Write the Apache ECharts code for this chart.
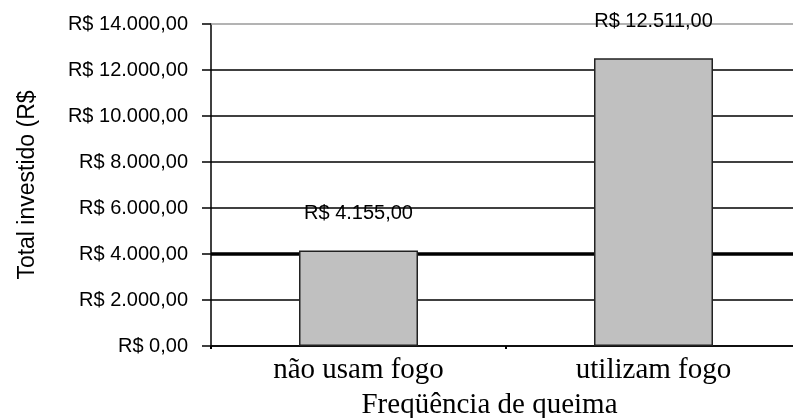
<!DOCTYPE html>
<html>
<head>
<meta charset="utf-8">
<script src="https://cdn.jsdelivr.net/npm/echarts@6/dist/echarts.min.js"></script>
<style>
  html, body { margin: 0; padding: 0; background: #fff; }
  #chart { width: 793px; height: 418px; }
</style>
</head>
<body>
<div id="chart"></div>
<script>
// Investimento total por frequência de queima
const categories = ['não usam fogo', 'utilizam fogo'];
const totals = [4155, 12511];
const yTicks = [0, 2000, 4000, 6000, 8000, 10000, 12000, 14000];
const axisTitleY = 'Total investido (R$';
const axisTitleX = 'Freqüência de queima';

// Formato monetário brasileiro: R$ 12.511,00
function brl(v) {
  const s = String(Math.round(v)).replace(/\B(?=(\d{3})+(?!\d))/g, '.');
  return 'R$ ' + s + ',00';
}

const sans = 'Liberation Sans, Arial, sans-serif';
const serif = 'Liberation Serif, Times New Roman, serif';

const chart = echarts.init(document.getElementById('chart'), null, { renderer: 'canvas' });
chart.setOption({
  animation: false,
  backgroundColor: '#ffffff',
  grid: { left: 211, top: 24, width: 590, height: 322, containLabel: false, outerBoundsMode: 'none' },
  xAxis: {
    type: 'category',
    data: categories,
    name: axisTitleX,
    nameLocation: 'middle',
    nameGap: 45,
    nameTextStyle: { fontFamily: serif, fontSize: 29, color: '#000', padding: [0, 33, 0, 0] },
    axisLine: { lineStyle: { color: '#000', width: 1.5 } },
    axisTick: { show: true, length: 3, lineStyle: { color: '#000', width: 2 } },
    axisLabel: { fontFamily: serif, fontSize: 29, color: '#000', margin: 10 }
  },
  yAxis: {
    type: 'value',
    min: yTicks[0],
    max: yTicks[yTicks.length - 1],
    interval: yTicks[1] - yTicks[0],
    name: axisTitleY,
    nameLocation: 'middle',
    nameGap: 172,
    nameTextStyle: { fontFamily: sans, fontSize: 23, color: '#000' },
    axisLine: { show: true, lineStyle: { color: '#000', width: 1.5 } },
    axisTick: { show: true, inside: false, length: 9, lineStyle: { color: '#000', width: 1.5 } },
    axisLabel: { fontFamily: sans, fontSize: 20, color: '#000', margin: 23, formatter: brl },
    splitLine: { show: true, showMaxLine: false, lineStyle: { color: '#000', width: 1.5 } }
  },
  series: [{
    type: 'bar',
    data: totals,
    barWidth: 119,
    itemStyle: { color: '#c0c0c0', borderColor: '#222', borderWidth: 1.5 },
    label: {
      show: true,
      position: 'top',
      distance: 27,
      fontFamily: sans,
      fontSize: 20,
      color: '#000',
      formatter: p => brl(p.value)
    },
    markLine: {
      silent: true,
      symbol: 'none',
      z: 1,
      label: { show: false },
      data: [
        { yAxis: 4000, lineStyle: { color: '#000', width: 3.5, type: 'solid' } },
        { yAxis: 14000, lineStyle: { color: '#9a9a9a', width: 1.5, type: 'solid' } }
      ]
    }
  }]
});
</script>
</body>
</html>
